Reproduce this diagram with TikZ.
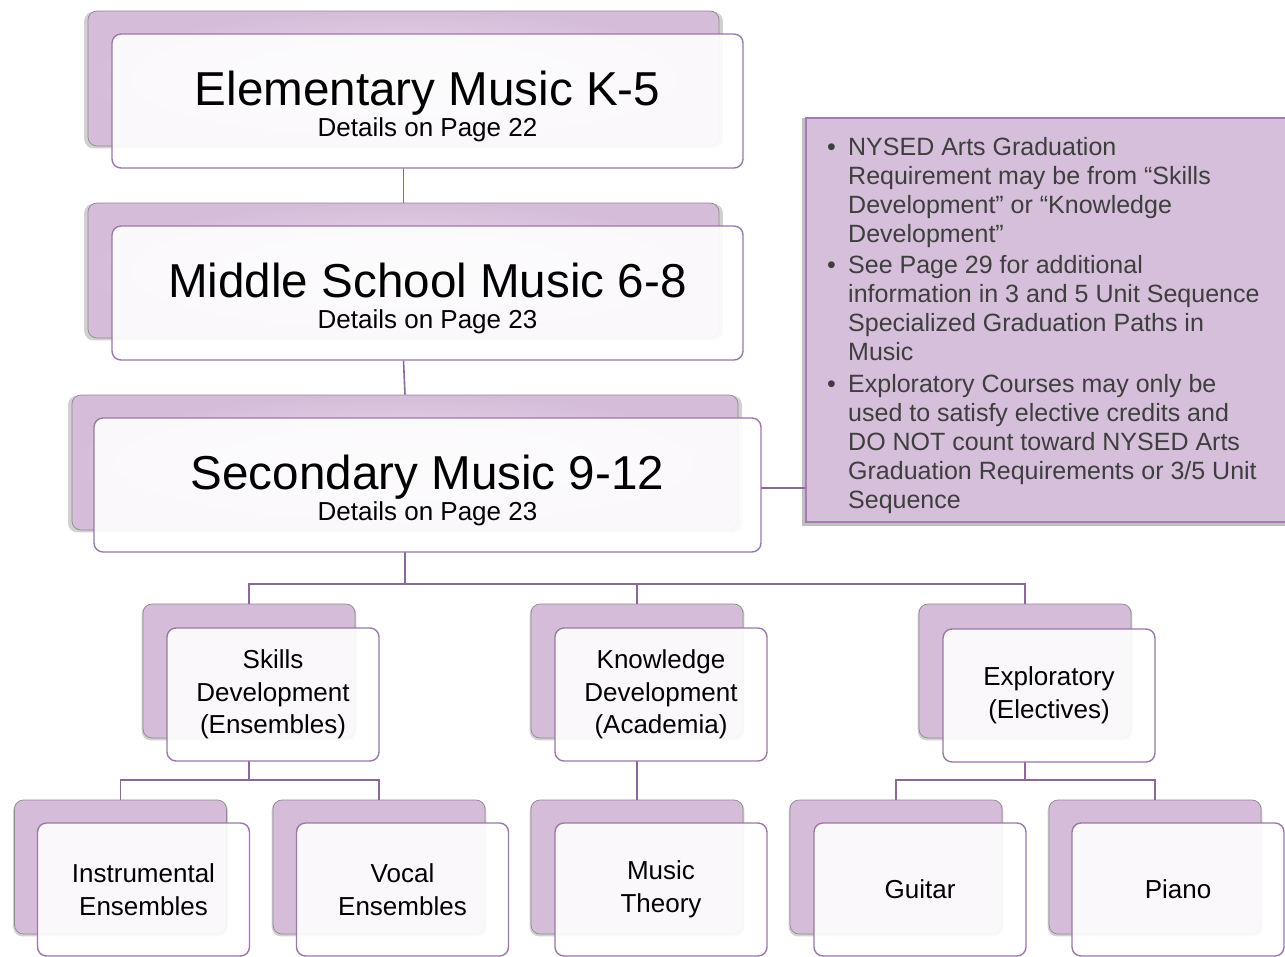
\documentclass[tikz,border=0pt]{standalone}
\usepackage{fontspec}
\setmainfont{Liberation Sans}
\usetikzlibrary{shadows}
\definecolor{backc}{HTML}{D5BDDA}
\definecolor{backlight}{HTML}{E9DFEB}
\definecolor{frontline}{HTML}{9C77AA}
\definecolor{connc}{HTML}{8C6898}
\definecolor{notefill}{HTML}{D6BFDB}
\definecolor{noteline}{HTML}{A47CB1}
\definecolor{notetext}{HTML}{3E3E3E}
\tikzset{
  backbase/.style={rounded corners=9pt, fill=backc, draw=black!45, line width=0.7pt,
    general shadow={fill=black, opacity=0.18, shadow xshift=0pt, shadow yshift=-1.5pt, shadow scale=1.012}},
  bigback/.style={backbase, minimum width=631pt, minimum height=135pt, inner sep=0pt,
    inner color=backlight, outer color=backc},
  secback/.style={bigback, minimum width=666pt},
  smallback/.style={backbase, minimum width=212pt, minimum height=134pt, inner sep=0pt},
  frontbase/.style={rounded corners=9pt, draw=frontline, line width=1.4pt, fill=white, fill opacity=0.9, text opacity=1,
    align=center, inner sep=0pt, text=black},
  bigfront/.style={frontbase, minimum width=631pt, minimum height=134pt,
    font=\fontsize{26}{31}\selectfont},
  secfront/.style={bigfront, minimum width=667pt},
  smallfront/.style={frontbase, minimum width=212pt, minimum height=133pt,
    font=\fontsize{26}{32.5}\selectfont},
  conn/.style={draw=connc, line width=1.6pt},
  notebox/.style={fill=notefill, draw=noteline, line width=1.6pt, minimum width=486pt, minimum height=404pt,
    inner sep=0pt, general shadow={fill=black, opacity=0.25, shadow xshift=-2pt, shadow yshift=-2pt, shadow scale=1.01}},
}
\newcommand{\bigtitle}[2]{{\fontsize{47.6}{50}\selectfont\rule{0pt}{45pt}#1}\\#2}
\begin{document}
\begin{tikzpicture}[x=1pt,y=-1pt]
\useasboundingbox[fill=white] (0,0) rectangle (1285,956);

% junction coordinates
\coordinate (j1) at (405,584);
\coordinate (j2) at (249,780);
\coordinate (j3) at (1025,780);

% back boxes
\node[bigback] (elemB) at (403.5,78.5) {};
\node[bigback] (midB) at (403.5,270.5) {};
\node[secback] (secB) at (405,462.5) {};
\node[smallback] (skillsB) at (249,671) {};
\node[smallback] (knowB) at (637,671) {};
\node[smallback] (explB) at (1025,671) {};
\node[smallback] (instB) at (120.5,867) {};
\node[smallback] (vocB) at (379,867) {};
\node[smallback] (theoB) at (637,867) {};
\node[smallback] (guitB) at (896,867) {};
\node[smallback] (pianoB) at (1155,867) {};

% notes box
\node[notebox] (notes) at (1049,320) {};

% connectors (behind front boxes)
\path (elemB.south) ++(0,22) coordinate (elemBot);
\draw[conn] (elemBot) -- (midB.north);
\path (midB.south) ++(0,22) coordinate (midBot);
\draw[conn] (midBot) -- (secB.north);
\path (secB.south) ++(0,22) coordinate (secBot);
\draw[conn] (secBot) -- (j1);
\draw[conn] (skillsB.north) |- (j1) -| (explB.north);
\draw[conn] (knowB.north) -- (knowB.north |- j1);
\path (skillsB.south) ++(0,22) coordinate (skillsBot);
\draw[conn] (skillsBot) -- (j2);
\draw[conn] (instB.north) |- (j2) -| (vocB.north);
\path (knowB.south) ++(0,22) coordinate (knowBot);
\draw[conn] (knowBot) -- (theoB.north);
\path (explB.south) ++(0,22) coordinate (explBot);
\draw[conn] (explBot) -- (j3);
\draw[conn] (guitB.north) |- (j3) -| (pianoB.north);
\coordinate (secR) at (761,488);
\draw[conn] (secR) -- (notes.west |- secR);

% front boxes
\node[bigfront] (elemF) at (427.5,101) {\bigtitle{Elementary Music K-5}{Details on Page 22}};
\node[bigfront] (midF) at (427.5,293) {\bigtitle{Middle School Music 6-8}{Details on Page 23}};
\node[secfront] (secF) at (427.5,485) {\bigtitle{Secondary Music 9-12}{Details on Page 23}};
\node[smallfront] (skillsF) at (273,694.5) {Skills\\Development\\(Ensembles)};
\node[smallfront] (knowF) at (661,694.5) {Knowledge\\Development\\(Academia)};
\node[smallfront] (explF) at (1049,695.5) {Exploratory\\(Electives)};
\node[smallfront] (instF) at (143.5,889.5) {Instrumental\\Ensembles};
\node[smallfront] (vocF) at (402.5,889.5) {Vocal\\Ensembles};
\node[smallfront] (theoF) at (661,889.5) {Music\\Theory};
\node[smallfront] (guitF) at (920,889.5) {Guitar};
\node[smallfront] (pianoF) at (1178,889.5) {Piano};

% notes text
\node[anchor=north west, inner sep=0pt, text=notetext, font=\fontsize{25}{29}\selectfont] (notetext) at (827,134.5) {%
\renewcommand{\arraystretch}{1}%
\begin{tabular}{@{}l@{}l@{}}
\makebox[21pt][l]{•} & NYSED Arts Graduation\\
 & Requirement may be from “Skills\\
 & Development” or “Knowledge\\
 & Development”\\[2.5pt]
\makebox[21pt][l]{•} & See Page 29 for additional\\
 & information in 3 and 5 Unit Sequence\\
 & Specialized Graduation Paths in\\
 & Music\\[2.5pt]
\makebox[21pt][l]{•} & Exploratory Courses may only be\\
 & used to satisfy elective credits and\\
 & DO NOT count toward NYSED Arts\\
 & Graduation Requirements or 3/5 Unit\\
 & Sequence
\end{tabular}};
\end{tikzpicture}
\end{document}
